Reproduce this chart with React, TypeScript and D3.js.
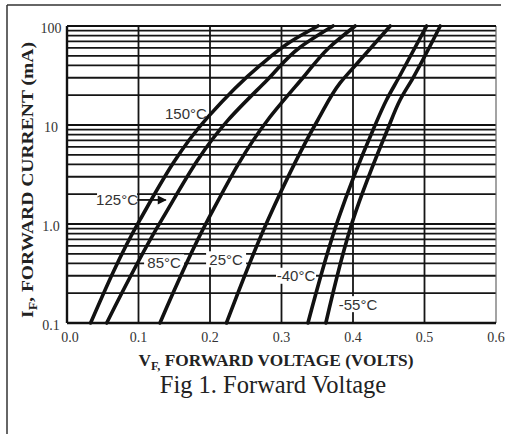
import React from "react";
import * as d3 from "d3";

// ---- data ----
const voltTicks = [0, 0.1, 0.2, 0.3, 0.4, 0.5, 0.6];
const voltTickLabels = ["0.0", "0.1", "0.2", "0.3", "0.4", "0.5", "0.6"];
const currentTicks = [0.1, 1, 10, 100];
const currentTickLabels = ["0.1", "1.0", "10", "100"];

// [forward voltage (V), forward current (mA)]
const curve150: [number, number][] = [
  [0.033, 0.1], [0.102, 1.1], [0.197, 12], [0.27, 40], [0.312, 69], [0.351, 100],
];
const curve125: [number, number][] = [
  [0.0555, 0.1], [0.1324, 1.1], [0.2252, 11.2], [0.28, 28.5], [0.326, 61], [0.372, 100],
];
const curve85: [number, number][] = [
  [0.13, 0.1], [0.197, 1.1], [0.281, 11.3], [0.33, 30], [0.366, 60], [0.403, 100],
];
const curve25: [number, number][] = [
  [0.223, 0.1], [0.281, 1.1], [0.351, 11.3], [0.382, 26.6], [0.406, 42], [0.452, 100],
];
const curveM40: [number, number][] = [
  [0.337, 0.1], [0.379, 1.1], [0.428, 8.9], [0.447, 18], [0.464, 30], [0.503, 100],
];
const curveM55: [number, number][] = [
  [0.362, 0.1], [0.4, 1.1], [0.448, 8.9], [0.466, 18], [0.484, 30], [0.522, 100],
];
const curves = [curve150, curve125, curve85, curve25, curveM40, curveM55];

// labels: text, anchor voltage, anchor current
const labelTexts = ["150°C", "125°C", "85°C", "25°C", "-40°C", "-55°C"];
const labelVolts = [0.1664, 0.07, 0.1358, 0.2225, 0.3203, 0.407];
const labelCurrents = [13.2, 1.75, 0.41, 0.44, 0.3, 0.155];

// ---- layout ----
const W = 506;
const H = 434;
const left = 67;
const right = 496;
const top = 26;
const bottom = 323;

export default function App() {
  const x = d3.scaleLinear().domain([0, 0.6]).range([left, right]);
  const y = d3.scaleLog().domain([0.1, 100]).range([bottom, top]);

  const hGrid: number[] = [];
  for (let dec = 0.1; dec < 100; dec *= 10) {
    for (let m = 2; m <= 9; m++) hGrid.push(+(dec * m).toPrecision(3));
  }
  const line = d3
    .line<[number, number]>()
    .x((d) => x(d[0]))
    .y((d) => y(d[1]))
    .curve(d3.curveMonotoneY);

  const serif = "'Liberation Serif', 'Times New Roman', serif";
  const sans = "'Liberation Sans', Arial, sans-serif";

  return (
    <svg
      width={W}
      height={H}
      style={{ position: "absolute", left: 0, top: 0, background: "#fff" }}
    >
      <rect x={0} y={0} width={W} height={H} fill="#fff" />
      {/* outer frame */}
      <line x1={7} y1={5} x2={501} y2={5} stroke="#333" strokeWidth={1.5} />
      <line x1={7} y1={5} x2={7} y2={H} stroke="#333" strokeWidth={1.5} />

      {/* horizontal grid */}
      {hGrid.map((v, i) => (
        <line key={"h" + i} x1={left} x2={right} y1={y(v)} y2={y(v)} stroke="#151515" strokeWidth={1.8} />
      ))}
      {currentTicks.map((v, i) => (
        <line key={"hm" + i} x1={left} x2={right} y1={y(v)} y2={y(v)} stroke="#111" strokeWidth={2.2} />
      ))}
      {/* vertical grid */}
      {voltTicks.slice(1, -1).map((v, i) => (
        <line key={"v" + i} x1={x(v)} x2={x(v)} y1={top} y2={bottom} stroke="#151515" strokeWidth={1.8} />
      ))}
      <line x1={right} x2={right} y1={top} y2={bottom} stroke="#666" strokeWidth={1.2} />
      <line x1={left} x2={left} y1={top} y2={bottom} stroke="#111" strokeWidth={2.4} />
      <line x1={left} x2={right} y1={bottom} y2={bottom} stroke="#111" strokeWidth={2.6} />
      <line x1={left} x2={right} y1={top} y2={top} stroke="#111" strokeWidth={2.2} />

      {/* label backgrounds */}
      {labelTexts.map((t, i) => (
        <rect
          key={"lb" + i}
          x={x(labelVolts[i]) - 20}
          y={y(labelCurrents[i]) - 8}
          width={40}
          height={16}
          fill="#fff"
        />
      ))}

      {/* curves (ordered top to bottom for monotone-in-y interpolation) */}
      {curves.map((c, i) => (
        <path
          key={"c" + i}
          d={line(c.slice().reverse()) || ""}
          fill="none"
          stroke="#111"
          strokeWidth={3.6}
          strokeLinecap="round"
        />
      ))}

      {/* labels */}
      {labelTexts.map((t, i) => (
        <text
          key={"lt" + i}
          x={x(labelVolts[i])}
          y={y(labelCurrents[i])}
          fontFamily={sans}
          fontSize={15}
          textAnchor="middle"
          dominantBaseline="central"
          fill="#333"
        >
          {t}
        </text>
      ))}
      {/* 125 arrow */}
      <line x1={x(0.0985)} x2={x(0.138)} y1={y(1.75)} y2={y(1.75)} stroke="#111" strokeWidth={1.8} />
      <path d={`M${x(0.1395)},${y(1.75)} l-9,-4.5 l0,9 z`} fill="#111" />

      {/* y tick labels */}
      {currentTicks.map((v, i) => (
        <text key={"yt" + i} x={51} y={y(v) + 2} fontFamily={serif} fontSize={14} textAnchor="middle" dominantBaseline="central" fill="#333">
          {currentTickLabels[i]}
        </text>
      ))}
      {/* x tick labels */}
      {voltTicks.map((v, i) => (
        <text key={"xt" + i} x={x(v) + (i === 0 ? 3 : 0)} y={342} fontFamily={serif} fontSize={14} textAnchor="middle" fill="#333">
          {voltTickLabels[i]}
        </text>
      ))}

      {/* axis titles */}
      <text x={276} y={366} fontFamily={serif} fontSize={17} fontWeight="bold" textAnchor="middle" fill="#222"
        textLength={275} lengthAdjust="spacingAndGlyphs">
        V<tspan fontSize={12} dy={4}>F,</tspan>
        <tspan dy={-4}> FORWARD VOLTAGE (VOLTS)</tspan>
      </text>
      <text
        transform="translate(33,180) rotate(-90)"
        fontFamily={serif}
        fontSize={17}
        fontWeight="bold"
        textAnchor="middle"
        fill="#222"
        textLength={276}
        lengthAdjust="spacingAndGlyphs"
      >
        I<tspan fontSize={12} dy={4}>F</tspan>
        <tspan dy={-4}>, FORWARD CURRENT (mA)</tspan>
      </text>

      {/* caption */}
      <text x={273} y={393} fontFamily={serif} fontSize={24.5} textAnchor="middle" fill="#222">
        Fig 1. Forward Voltage
      </text>
    </svg>
  );
}
